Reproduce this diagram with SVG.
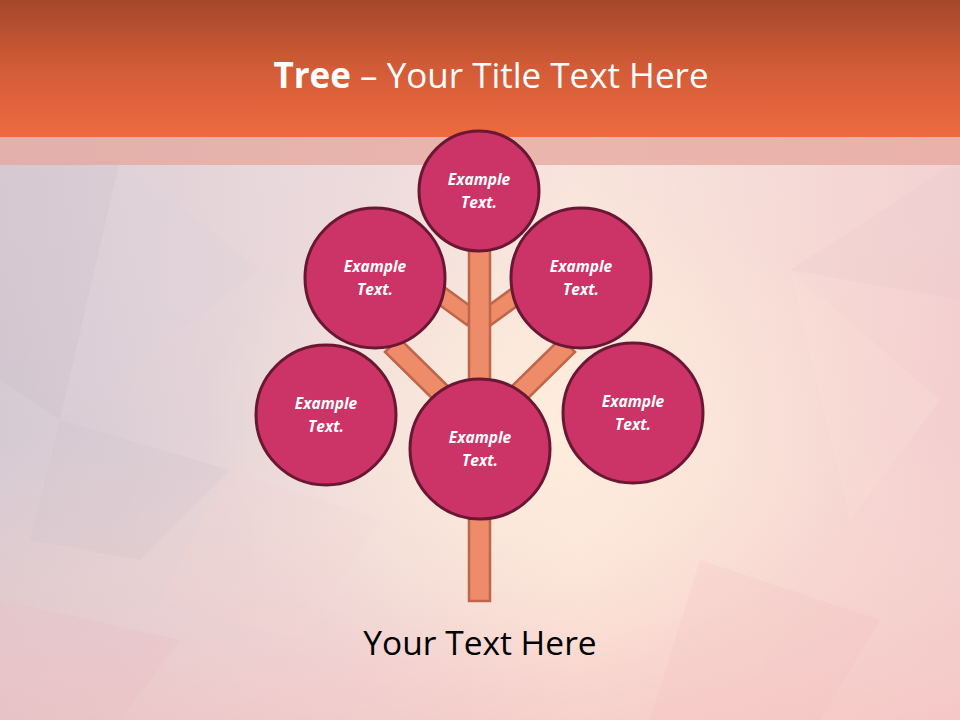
<svg xmlns="http://www.w3.org/2000/svg" width="960" height="720" viewBox="0 0 960 720">
<defs>
<linearGradient id="hdr" x1="0" y1="0" x2="0" y2="1">
<stop offset="0" stop-color="#A5472B"/>
<stop offset="0.5" stop-color="#D25C37"/>
<stop offset="1" stop-color="#EE6A40"/>
</linearGradient>
<linearGradient id="bgH" x1="0" y1="0" x2="1" y2="0">
<stop offset="0" stop-color="#D5C9D2"/>
<stop offset="0.35" stop-color="#EBD9DC"/>
<stop offset="0.6" stop-color="#FBE6DC"/>
<stop offset="1" stop-color="#F3CFCF"/>
</linearGradient>
<linearGradient id="bgV" x1="0" y1="0" x2="0" y2="1">
<stop offset="0" stop-color="#E6DCE6" stop-opacity="0.3"/>
<stop offset="0.6" stop-color="#FBE0D4" stop-opacity="0"/>
<stop offset="1" stop-color="#F5C2C0" stop-opacity="0.6"/>
</linearGradient>
<radialGradient id="glow" cx="0.56" cy="0.6" r="0.35">
<stop offset="0" stop-color="#FFEEDC" stop-opacity="0.8"/>
<stop offset="1" stop-color="#FFEEDC" stop-opacity="0"/>
</radialGradient>
</defs>
<style>
.leaf{fill:#CC3467;stroke:#6A1733;stroke-width:3}
.wood{fill:#EE8B68;stroke:#BE664A;stroke-width:2.5;stroke-linejoin:miter}
.lbl{font-family:"Open Sans","Noto Sans","Liberation Sans",sans-serif;font-weight:bold;font-style:italic;font-size:15.5px;fill:#FFFFFF;text-anchor:middle}
.poly{stroke:none}
</style>
<rect x="0" y="0" width="960" height="720" fill="url(#bgH)"/>
<rect x="0" y="0" width="960" height="720" fill="url(#bgV)"/>
<rect x="0" y="0" width="960" height="720" fill="url(#glow)"/>
<g opacity="0.22">
<polygon class="poly" points="0,160 120,160 60,420 0,380" fill="#C9BCC9"/>
<polygon class="poly" points="120,160 260,270 60,420" fill="#DCD2DE"/>
<polygon class="poly" points="60,420 230,470 140,560 30,540" fill="#CFC1CA"/>
<polygon class="poly" points="790,270 960,160 960,300" fill="#E8C8CC"/>
<polygon class="poly" points="790,270 940,400 850,520" fill="#FFE4DA"/>
<polygon class="poly" points="700,560 880,620 820,720 650,720" fill="#F4BFC0"/>
<polygon class="poly" points="0,600 180,640 120,720 0,720" fill="#EBBBC2"/>
<polygon class="poly" points="230,470 380,520 300,640 160,600" fill="#F7D4D0"/>
<polygon class="poly" points="560,160 700,160 640,230" fill="#FBE4DC"/>
</g>
<rect x="0" y="137" width="960" height="28" fill="#E6A59C" opacity="0.75"/>
<rect x="0" y="0" width="960" height="137" fill="url(#hdr)"/>
<text x="491" y="88" text-anchor="middle" font-family="'Open Sans','Noto Sans','Liberation Sans',sans-serif" font-size="35" fill="#FFFFFF"><tspan font-weight="bold">Tree</tspan> – Your Title Text Here</text>
<g id="connectors">
<polygon class="wood" points="419,290 429,276 477,311 467,325"/>
<polygon class="wood" points="539,290 529,276 481,311 491,325"/>
<polygon class="wood" points="385,352 399,338 457,395 443,409"/>
<polygon class="wood" points="575,352 561,338 503,395 517,409"/>
<rect class="wood" x="469" y="240" width="21" height="361"/>
</g>
<g id="node-top"><circle class="leaf" cx="479" cy="191" r="60"/><text class="lbl" x="479" y="185">Example</text><text class="lbl" x="479" y="208">Text.</text></g>
<g id="node-upper-left"><circle class="leaf" cx="375" cy="278" r="70"/><text class="lbl" x="375" y="272">Example</text><text class="lbl" x="375" y="295">Text.</text></g>
<g id="node-upper-right"><circle class="leaf" cx="581" cy="278" r="70"/><text class="lbl" x="581" y="272">Example</text><text class="lbl" x="581" y="295">Text.</text></g>
<g id="node-lower-left"><circle class="leaf" cx="326" cy="415" r="70"/><text class="lbl" x="326" y="409">Example</text><text class="lbl" x="326" y="432">Text.</text></g>
<g id="node-center"><circle class="leaf" cx="480" cy="449" r="70"/><text class="lbl" x="480" y="443">Example</text><text class="lbl" x="480" y="466">Text.</text></g>
<g id="node-lower-right"><circle class="leaf" cx="633" cy="413" r="70"/><text class="lbl" x="633" y="407">Example</text><text class="lbl" x="633" y="430">Text.</text></g>
<text x="480" y="655" text-anchor="middle" font-family="'Open Sans','Noto Sans','Liberation Sans',sans-serif" font-size="33.5" fill="#000000">Your Text Here</text>
</svg>
